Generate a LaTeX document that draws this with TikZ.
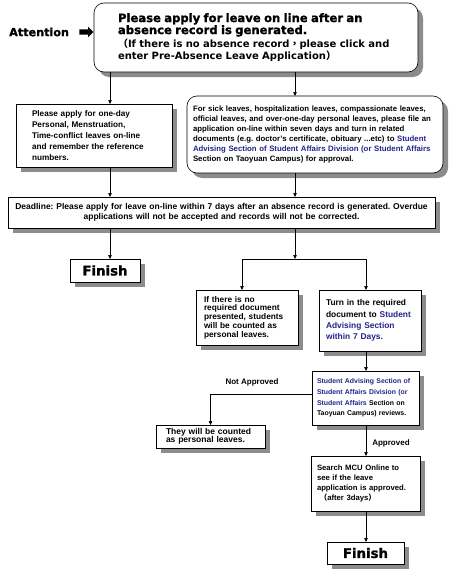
\documentclass[tikz,border=0pt]{standalone}
\usepackage{fontspec}
\setmainfont{Liberation Sans}
\newfontfamily\heavy{DejaVu Sans}
\newfontfamily\blackface{DejaVu Sans Bold}[FakeBold=1.2]
\newfontfamily\cjk{Noto Sans CJK TC}
\usetikzlibrary{shadows,shapes.arrows,arrows.meta}
\definecolor{navy}{RGB}{35,35,140}
\definecolor{shade}{gray}{0.55}
\frenchspacing
\tikzset{
  box/.style={draw=black, line width=0.6pt, fill=white,
    drop shadow={shadow xshift=5pt, shadow yshift=-5pt, fill=shade, opacity=1},
    inner sep=0pt, outer sep=0pt, align=left},
  rbox/.style={box, rounded corners=10pt},
  link/.style={draw, line width=0.6pt, -{Triangle[length=4pt,width=3.5pt]}},
  label/.style={font=\bfseries\fontsize{8}{10}\selectfont, inner sep=0pt},
  finish/.style={box, font=\blackface\fontsize{13.3}{14}\selectfont, align=center}
}
\begin{document}
\begin{tikzpicture}[x=1pt,y=-1pt]
\useasboundingbox[fill=white] (0,0) rectangle (474,576);

% Attention
\node[font=\blackface\fontsize{11.2}{12}\selectfont, inner sep=0pt, anchor=west] (att) at (9,32) {Attention};
\node[single arrow, fill=black, inner xsep=0pt, inner ysep=2.5pt, minimum height=14pt,
      single arrow head extend=2.5pt] (attarrow) at (85,32) {};

% top box
\node[rbox, minimum width=324pt, minimum height=69pt, text width=276pt] (top) at (256,37.5)
 {{\blackface\fontsize{11.6}{12}\selectfont Please apply for leave on line after an\\ absence record is generated.}\\[1.5pt]
  {\heavy\bfseries\fontsize{10}{11}\selectfont{\cjk（}If there is no absence record{\cjk，}please click and\\ enter Pre-Absence Leave Application{\cjk）}}};

% left box
\node[box, minimum width=156pt, minimum height=63pt, text width=124pt,
      font=\bfseries\fontsize{8.2}{11.2}\selectfont] (left) at (94,135.5)
 {Please apply for one-day\\ Personal, Menstruation,\\ Time-conflict leaves on-line\\ and remember the reference\\ numbers.};

% right box
\node[rbox, minimum width=256pt, minimum height=77pt, text width=244pt,
      font=\bfseries\fontsize{7.8}{10}\selectfont] (right) at (315,134.5)
 {For sick leaves, hospitalization leaves, compassionate leaves,\\
  official leaves, and over-one-day personal leaves, please file an\\
  application on-line within seven days and turn in related\\
  documents (e.g. doctor's certificate, obituary ...etc) to \textcolor{navy}{Student}\\
  \textcolor{navy}{Advising Section of Student Affairs Division (or Student Affairs}\\
  Section on Taoyuan Campus) for approval.};

% deadline box
\node[box, minimum width=427pt, minimum height=31pt, text width=424pt, align=center,
      font=\bfseries\fontsize{8.5}{10}\selectfont] (dl) at (221.5,212.5)
 {Deadline: Please apply for leave on-line within 7 days after an absence record is generated. Overdue\\
  applications will not be accepted and records will not be corrected.};

% finish 1
\node[finish, minimum width=70pt, minimum height=23pt] (fin1) at (105,270.5) {Finish};

% no document box
\node[box, minimum width=102pt, minimum height=55pt, text width=86pt,
      font=\bfseries\fontsize{8.3}{8.7}\selectfont] (nodoc) at (247,317.5)
 {If there is no\\ required document\\ presented, students\\ will be counted as\\ personal leaves.};

% turn in box
\node[box, minimum width=102pt, minimum height=61pt, text width=88pt,
      font=\bfseries\fontsize{8.4}{11.3}\selectfont] (turn) at (370,320.5)
 {Turn in the required\\ document to \textcolor{navy}{Student}\\ \textcolor{navy}{Advising Section}\\ \textcolor{navy}{within 7 Days.}};

% review box
\node[box, minimum width=107pt, minimum height=54pt, text width=97pt,
      font=\bfseries\fontsize{6.9}{10.8}\selectfont] (rev) at (365.5,398)
 {\textcolor{navy}{Student Advising Section of}\\ \textcolor{navy}{Student Affairs Division (or}\\ \textcolor{navy}{Student Affairs} Section on\\ Taoyuan Campus) reviews.};

% they box
\node[box, minimum width=109pt, minimum height=23pt, text width=89pt,
      font=\bfseries\fontsize{8.5}{8.4}\selectfont] (they) at (210.5,436.5)
 {They will be counted\\ as personal leaves.};

% search box
\node[box, minimum width=109pt, minimum height=55pt, text width=97pt,
      font=\bfseries\fontsize{7.7}{10}\selectfont] (search) at (365.5,483.5)
 {Search MCU Online to\\ see if the leave\\ application is approved.\\ \ {\cjk（}after 3days{\cjk）}};

% finish 2
\node[finish, minimum width=77pt, minimum height=22pt] (fin2) at (365.5,553) {Finish};

% connectors
\coordinate (cL) at (110,0);
\coordinate (cR) at (295,0);
\coordinate (cA) at (242,0);
\coordinate (cB) at (366,0);
\coordinate (br) at (295,259);
\draw[link] (top.south -| cL) -- (left.north -| cL);
\draw[link] (top.south -| cR) -- (right.north -| cR);
\draw[link] (left.south -| cL) -- (dl.north -| cL);
\draw[link] (right.south -| cR) -- (dl.north -| cR);
\draw[link] (dl.south -| cL) -- (fin1.north -| cL);
\draw[link] (dl.south -| cR) -- (br);
\draw[link] (br) -| (nodoc.north -| cA);
\draw[link] (br) -| (turn.north -| cB);
\draw[link] (turn.south -| cB) -- (rev.north -| cB);
\draw[link] ([yshift=4pt]rev.west) -| (they.north);
\draw[link] (rev.south -| cB) -- (search.north -| cB);
\draw[link] (search.south -| cB) -- (fin2.north -| cB);

\node[label] (na) at (252,382) {Not Approved};
\node[label] (ap) at (391,443) {Approved};
\end{tikzpicture}
\end{document}
